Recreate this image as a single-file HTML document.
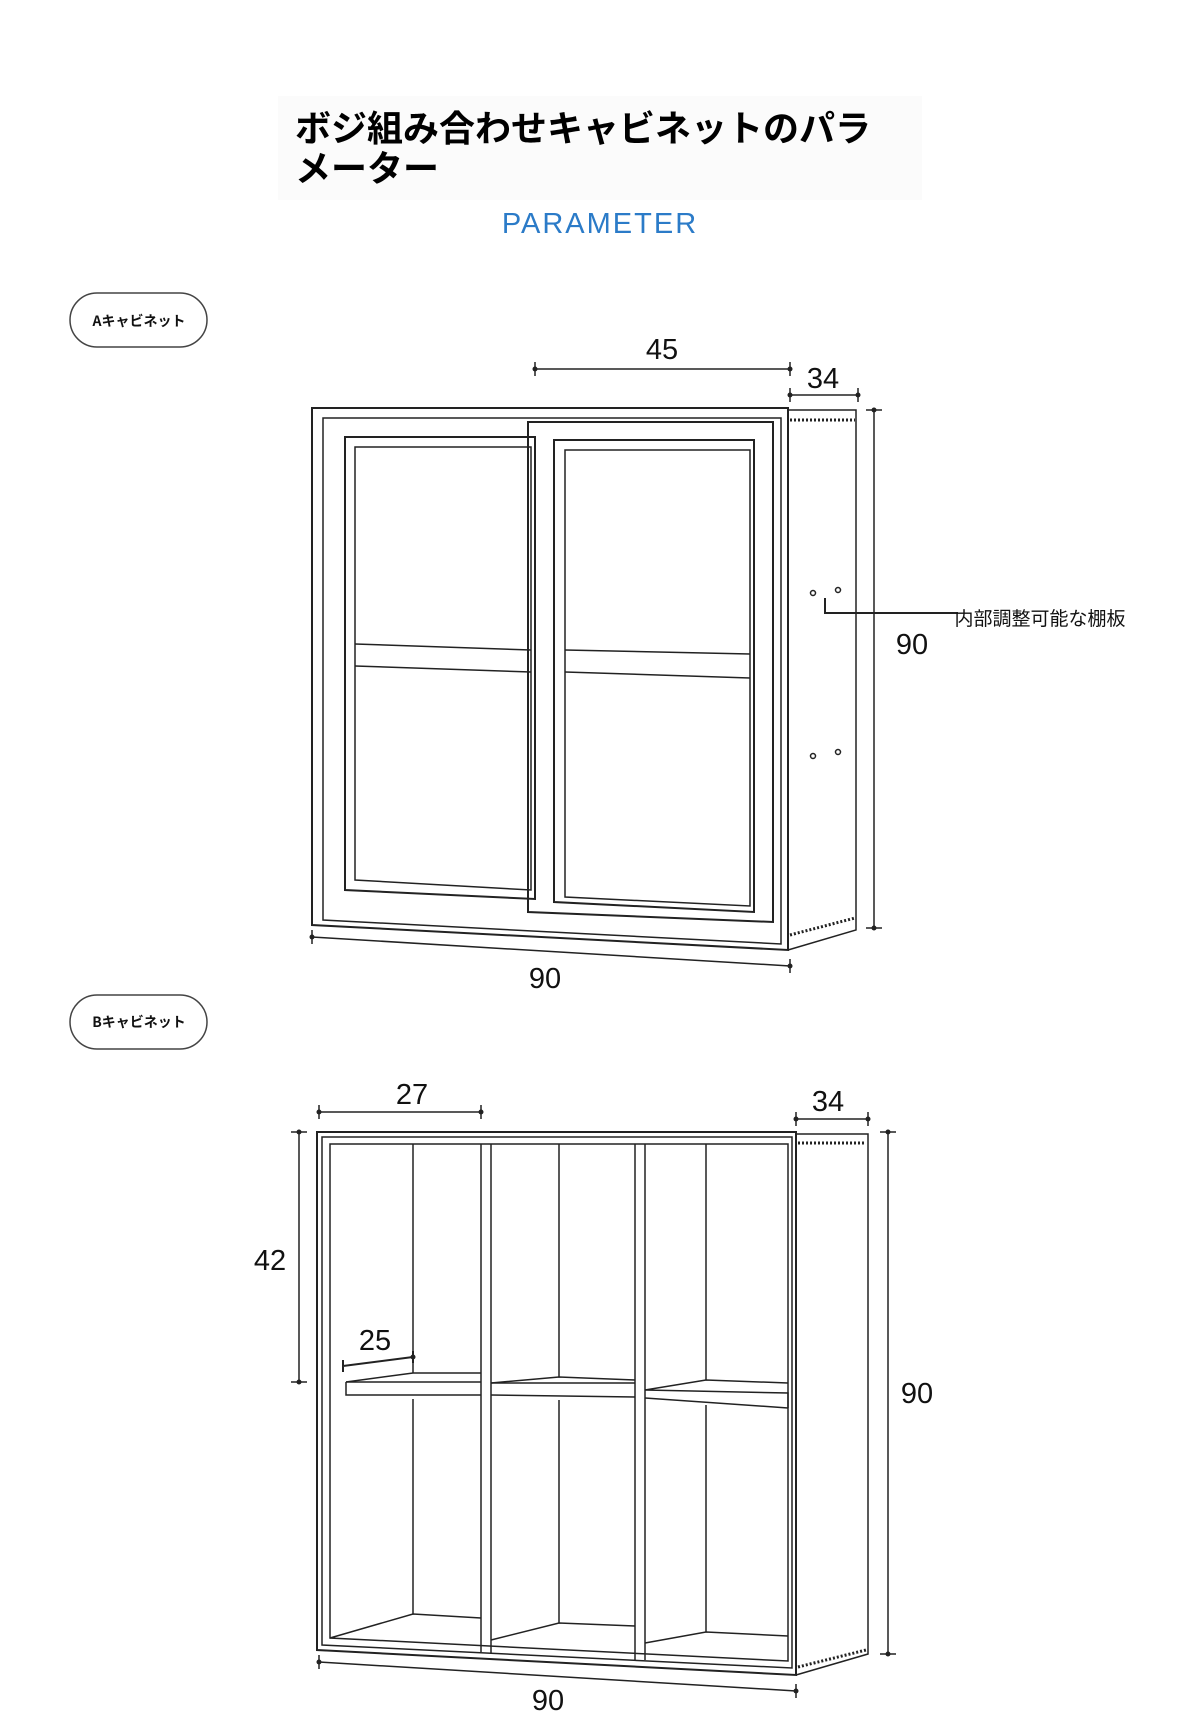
<!DOCTYPE html>
<html><head><meta charset="utf-8"><style>
html,body{margin:0;padding:0;background:#fff;}
body{width:1200px;height:1718px;position:relative;overflow:hidden;font-family:"Liberation Sans","Noto Sans CJK JP",sans-serif;}
.t{position:absolute;}
</style></head><body>
<div class="t" style="left:278px;top:96px;width:644px;height:104px;background:#fbfbfb;"></div>
<div class="t" style="left:295px;top:106px;font-size:36px;font-weight:bold;line-height:40px;color:#000;font-family:'Noto Sans CJK JP',sans-serif;">ボジ組み合わせキャビネットのパラ<br>メーター</div>
<div class="t" style="left:490px;top:208px;width:220px;text-align:center;font-size:29px;letter-spacing:2px;color:#2b7bc8;font-weight:500;">PARAMETER</div>

<svg class="t" style="left:0;top:0" width="1200" height="1718" viewBox="0 0 1200 1718">
<g fill="none" stroke="#222" stroke-width="1.5" font-family="Liberation Sans, Noto Sans CJK JP, sans-serif">
<rect x="70" y="293" width="137" height="54" rx="27" stroke="#444"/>
<rect x="70" y="995" width="137" height="54" rx="27" stroke="#444"/>
<path d="M312 408 L788 408 L788 950 L312 925 Z" stroke-width="2"/>
<path d="M323 418 L781 418 Q781 418 781 425 L781 944 L323 920 Z"/>
<path d="M788 410 L856 410 L856 930 L788 950" />
<path d="M790 420 L855 420" stroke-dasharray="2 2" stroke-width="3"/>
<path d="M790 935 L855 918" stroke-dasharray="2 2" stroke-width="3"/>
<path d="M345 437 L535 437 L535 899 L345 890 Z" stroke-width="2"/>
<path d="M355 447 L531 447 L531 890 L355 880 Z"/>
<path d="M355 644 L531 650 M355 666 L531 672"/>
<path d="M528 422 L773 422 L773 922 L528 912 Z" stroke-width="2"/>
<path d="M554 440 L754 440 L754 912 L554 902 Z" stroke-width="2"/>
<path d="M565 450 L750 450 L750 906 L565 897 Z"/>
<path d="M565 650 L750 654 M565 672 L750 678"/>
<circle cx="813" cy="593" r="2.5"/><circle cx="838" cy="590" r="2.5"/>
<circle cx="813" cy="756" r="2.5"/><circle cx="838" cy="752" r="2.5"/>
<path d="M825 598 L825 613 L958 613" stroke-width="2"/>
<path d="M535 369 L790 369 M535 362 L535 376 M790 362 L790 376"/>
<path d="M790 395 L858 395 M790 388 L790 402 M858 388 L858 402"/>
<path d="M874 410 L874 928 M866 410 L882 410 M866 928 L882 928"/>
<path d="M312 937 L790 966 M312 930 L312 944 M790 959 L790 973"/>
<path d="M317 1132 L796 1132 L796 1675 L317 1650 Z" stroke-width="2"/>
<path d="M322 1137 L792 1137 L792 1668 L322 1645 Z"/>
<path d="M330 1144 L788 1144 L788 1661 L330 1638 Z"/>
<path d="M796 1134 L868 1134 L868 1654 L796 1675"/>
<path d="M798 1143 L866 1143" stroke-dasharray="2 2" stroke-width="3"/>
<path d="M798 1667 L866 1650" stroke-dasharray="2 2" stroke-width="3"/>
<path d="M481 1144 L481 1652 M491 1144 L491 1653 M635 1144 L635 1660 M645 1144 L645 1660"/>
<path d="M413 1144 L413 1373 M559 1144 L559 1377 M706 1144 L706 1380"/>
<path d="M413 1399 L413 1614 M559 1400 L559 1623 M706 1405 L706 1632"/>
<path d="M330 1638 L413 1614 L481 1618 M491 1640 L559 1623 L635 1626 M645 1643 L706 1632 L788 1636"/>
<path d="M346 1382 L413 1373 L481 1373 M491 1383 L559 1377 L635 1380 M645 1390 L706 1380 L788 1383"/>
<path d="M346 1382 L346 1395 L481 1395 M491 1395 L635 1397 M645 1398 L788 1408 M481 1382 L346 1382 M491 1383 L635 1383 M645 1390 L788 1393 L788 1408"/>
<path d="M319 1112 L481 1112 M319 1105 L319 1119 M481 1105 L481 1119"/>
<path d="M796 1119 L868 1119 M796 1112 L796 1126 M868 1112 L868 1126"/>
<path d="M299 1132 L299 1382 M291 1132 L307 1132 M291 1382 L307 1382"/>
<path d="M343 1366 L413 1357 M343 1360 L343 1372 M413 1351 L413 1363" stroke-width="2"/>
<path d="M888 1132 L888 1654 M880 1132 L896 1132 M880 1654 L896 1654"/>
<path d="M319 1662 L796 1691 M319 1655 L319 1669 M796 1684 L796 1698"/>
</g>
<g fill="#222">
<circle cx="535" cy="369" r="2.5"/><circle cx="790" cy="369" r="2.5"/><circle cx="790" cy="395" r="2.5"/><circle cx="858" cy="395" r="2.5"/>
<circle cx="874" cy="410" r="2.5"/><circle cx="874" cy="928" r="2.5"/><circle cx="312" cy="937" r="2.5"/><circle cx="790" cy="966" r="2.5"/>
<circle cx="319" cy="1112" r="2.5"/><circle cx="481" cy="1112" r="2.5"/><circle cx="796" cy="1119" r="2.5"/><circle cx="868" cy="1119" r="2.5"/>
<circle cx="299" cy="1132" r="2.5"/><circle cx="299" cy="1382" r="2.5"/><circle cx="888" cy="1132" r="2.5"/><circle cx="888" cy="1654" r="2.5"/>
<circle cx="319" cy="1662" r="2.5"/><circle cx="796" cy="1691" r="2.5"/><circle cx="413" cy="1357" r="2.5"/>
</g>
<g fill="#111" font-family="Liberation Sans, Noto Sans CJK JP, sans-serif" text-anchor="middle" font-size="29">
<text x="662" y="359">45</text>
<text x="823" y="388">34</text>
<text x="912" y="654">90</text>
<text x="545" y="988">90</text>
<text x="412" y="1104">27</text>
<text x="828" y="1111">34</text>
<text x="270" y="1270">42</text>
<text x="375" y="1350">25</text>
<text x="917" y="1403">90</text>
<text x="548" y="1710">90</text>
<text x="1040" y="625" font-size="19" font-family="Noto Sans CJK JP, sans-serif">内部調整可能な棚板</text>
<text x="139" y="326" font-size="14" font-weight="bold" font-family="Noto Sans CJK JP, sans-serif">Aキャビネット</text>
<text x="139" y="1027" font-size="14" font-weight="bold" font-family="Noto Sans CJK JP, sans-serif">Bキャビネット</text>
</g>
</svg>
</body></html>
